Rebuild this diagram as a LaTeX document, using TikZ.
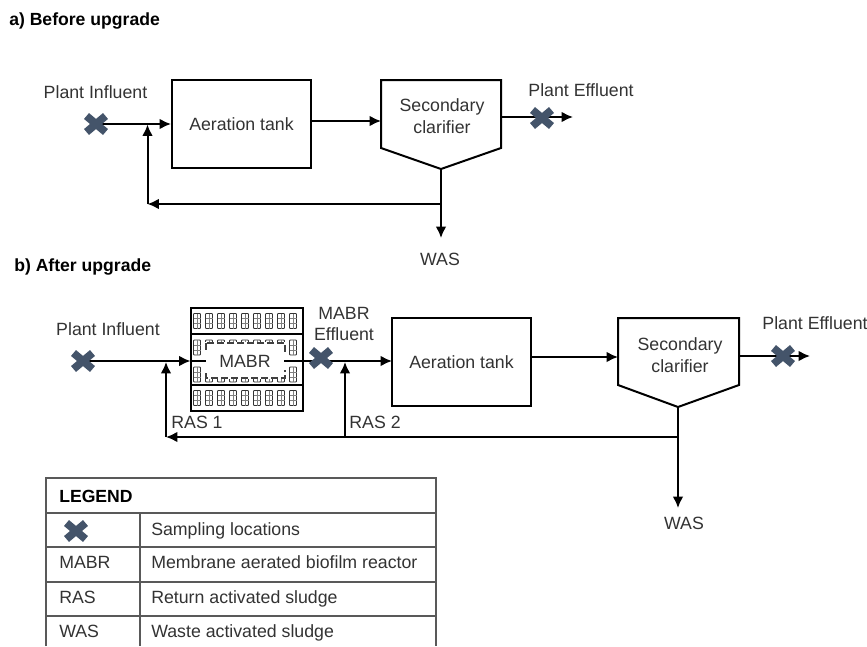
\documentclass[tikz,border=0pt]{standalone}
\usepackage{fontspec}
\setmainfont{Liberation Sans}
\usetikzlibrary{arrows.meta}
\definecolor{xblue}{HTML}{44546A}
\definecolor{txt}{HTML}{333333}
\tikzset{
  x=0.75pt,y=-0.75pt,
  lbl/.style={font=\fontsize{13.3}{16}\selectfont,text=txt,align=center,inner sep=0pt},
  ttl/.style={font=\fontsize{13.2}{15}\selectfont\bfseries,text=black,inner sep=0pt,anchor=west},
  leg/.style={font=\fontsize{13.3}{15}\selectfont,text=txt,inner sep=0pt,anchor=west,text height=9.6pt,text depth=2.8pt},
  unit/.style={draw=black,line width=1.5pt,minimum width=104.25pt,minimum height=66pt,inner sep=0pt,font=\fontsize{13.3}{15}\selectfont,text=txt},
  outline/.style={draw=black,line width=1.5pt},
  flow/.style={draw=black,line width=1.5pt,-{Latex[length=8.5pt,width=8pt]}},
  plain/.style={draw=black,line width=1.5pt},
  thin rule/.style={draw=black!65,line width=0.8pt},
  pics/xm/.style={code={
    \draw[xblue,line width=5.8pt] (-9.5,-8)--(9.5,8);
    \draw[xblue,line width=5.8pt] (-9.5,8)--(9.5,-8);}},
  pics/cell/.style={code={
    \draw[black!80,line width=0.7pt,rounded corners=0.6pt] (-3.5,-7.5) rectangle (3.5,7.5);
    \draw[black!50,line width=0.6pt] (0,-7.5)--(0,7.5) (-3.5,-2.5)--(3.5,-2.5) (-3.5,2.5)--(3.5,2.5);}}
}
\begin{document}
\begin{tikzpicture}
\useasboundingbox (0,0) rectangle (867,646);
\fill[white] (0,0) rectangle (867,646);
% titles
\node[ttl] (ta) at (9,21) {a) Before upgrade};
\node[ttl] (tb) at (14,267) {b) After upgrade};

% ---------- a
\node[unit] (at1) at (241.5,124) {Aeration tank};
\path[outline] (381,80)--(501,80)--(501,148)--(441,169)--(381,148)--cycle;
\node[lbl] (sc1) at (442,116) {Secondary\\clarifier};
\coordinate (sc1w) at (381,121);
\coordinate (sc1e) at (501,117);
\coordinate (sc1b) at (441,169);
\coordinate (in1) at (96,124);
\coordinate (out1) at (573,117);
\coordinate (j1) at (441,204);
\coordinate (r1) at (147.5,204);
\coordinate (m1) at (147.5,124.5);
\coordinate (was1) at (441,238);
\coordinate (at1e) at (311,121);
\path[flow] (in1) -- (at1.west);
\path[flow] (at1e) -- (sc1w);
\path[flow] (sc1e) -- (out1);
\path[flow] (sc1b) -- (was1);
\path[flow] (j1) -- (r1);
\path[flow] (r1) -- (m1);
\pic at (in1) {xm};
\pic at (542,118) {xm};
\node[lbl] (pi1) at (95.5,92) {Plant Influent};
\node[lbl] (pe1) at (581,90) {Plant Effluent};
\node[lbl] (w1) at (440,259) {WAS};

% ---------- b
\node[unit] (at2) at (461.5,362) {Aeration tank};
\path[outline] (618,318)--(739,318)--(739,385)--(678,407)--(618,385)--cycle;
\node[lbl] (sc2) at (680,355) {Secondary\\clarifier};
\coordinate (sc2w) at (618,357);
\coordinate (sc2e) at (739,356);
\coordinate (sc2b) at (678,407);
\coordinate (at2e) at (531,357);
\coordinate (in2) at (83,361);
\coordinate (mw) at (190.5,361);
\coordinate (me) at (303,361);
\coordinate (at2w) at (392,361);
\coordinate (out2) at (810,356);
\coordinate (j2) at (678,437);
\coordinate (r2) at (166,437);
\coordinate (m2) at (166,362);
\coordinate (j3) at (345,437);
\coordinate (m3) at (345,362);
\coordinate (was2) at (678,508);
% MABR
\foreach \r in {321,347.5,374.5,398}{
  \foreach \i in {0,...,8}{
    \pic at ({197+12*\i},\r) {cell};
  }
}
\fill[white] (204,342) rectangle (287,379);
\draw[black!75,line width=1pt,dash pattern=on 5pt off 2.5pt] (206,343) rectangle (285,378);
\fill[white] (202,352) rectangle (214,370);
\fill[white] (280,352) rectangle (289,370);
\node[lbl] (mabr) at (245,361) {MABR};
\path[outline] (190.5,308) rectangle (303,411);
\path[plain] (190.5,334)--(303,334);
\path[plain] (190.5,385)--(303,385);
\path[plain] (190.5,361)--(206,361);
\path[plain] (284,361)--(303,361);
\path[flow] (in2) -- (mw);
\path[flow] (me) -- (at2w);
\path[flow] (at2e) -- (sc2w);
\path[flow] (sc2e) -- (out2);
\path[flow] (sc2b) -- (was2);
\path[flow] (j2) -- (r2);
\path[flow] (r2) -- (m2);
\path[flow] (j3) -- (m3);
\pic at (in2) {xm};
\pic at (321,358) {xm};
\pic at (783,356) {xm};
\node[lbl] (pi2) at (108,329) {Plant Influent};
\node[lbl] (me2) at (344,324) {MABR\\Effluent};
\node[lbl] (pe2) at (815,323) {Plant Effluent};
\node[lbl] (ras1) at (197,422) {RAS 1};
\node[lbl] (ras2) at (375,422) {RAS 2};
\node[lbl] (w2) at (684,523) {WAS};

% ---------- legend
\path[thin rule] (46,646)--(46,478)--(436,478)--(436,646);
\path[thin rule] (46,513)--(436,513) (46,547)--(436,547) (46,582)--(436,582) (46,616)--(436,616);
\path[thin rule] (140,513)--(140,646);
\node[ttl] (lg) at (59,496) {LEGEND};
\pic at (76,531) {xm};
\node[leg] (l1) at (151,531) {Sampling locations};
\node[leg] (l2a) at (59,564) {MABR};
\node[leg] (l2) at (151,564) {Membrane aerated biofilm reactor};
\node[leg] (l3a) at (59,599) {RAS};
\node[leg] (l3) at (151,599) {Return activated sludge};
\node[leg] (l4a) at (59,633) {WAS};
\node[leg] (l4) at (151,633) {Waste activated sludge};
\end{tikzpicture}
\end{document}
